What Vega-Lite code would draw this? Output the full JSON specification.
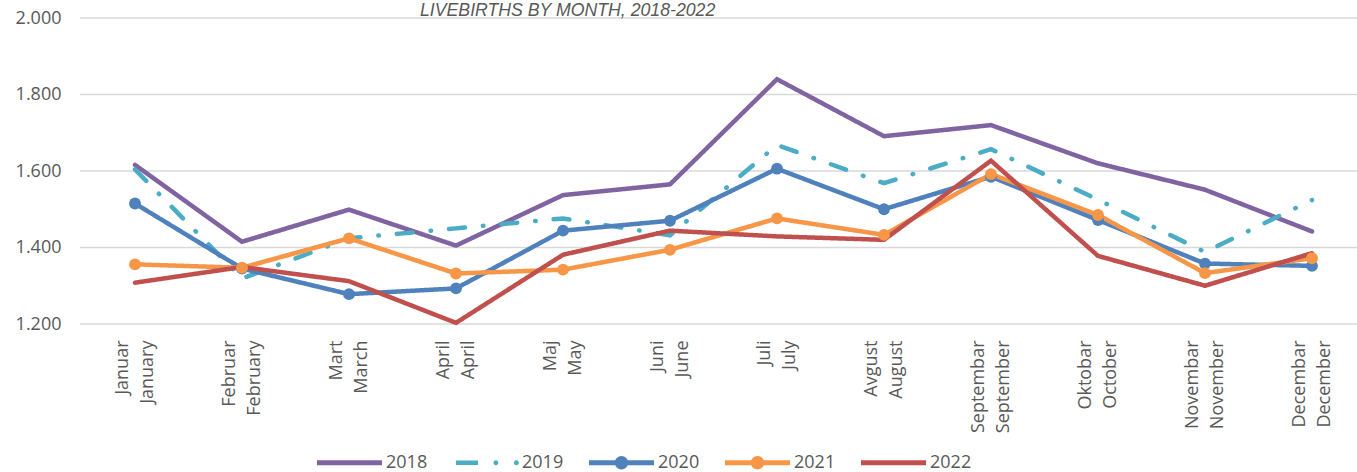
{
  "$schema": "https://vega.github.io/schema/vega-lite/v6.json",
  "width": 1277,
  "height": 306,
  "autosize": {"type": "none"},
  "padding": {"left": 80, "top": 18, "right": 0, "bottom": 148},
  "background": "white",
  "title": {
    "text": "LIVEBIRTHS BY MONTH, 2018-2022",
    "anchor": "start",
    "dx": 340,
    "offset": -25,
    "font": "Liberation Sans",
    "fontSize": 17.7,
    "fontStyle": "italic",
    "fontWeight": "normal",
    "color": "#595959",
    "baseline": "alphabetic",
    "frame": "group"
  },
  "config": {
    "view": {"stroke": null},
    "font": "Open Sans"
  },
  "data": {
    "values": [
      {"month": "Januar|January", "year": "2018", "births": 1616},
      {"month": "Februar|February", "year": "2018", "births": 1415},
      {"month": "Mart|March", "year": "2018", "births": 1499},
      {"month": "April|April", "year": "2018", "births": 1405},
      {"month": "Maj|May", "year": "2018", "births": 1537},
      {"month": "Juni|June", "year": "2018", "births": 1565},
      {"month": "Juli|July", "year": "2018", "births": 1840},
      {"month": "Avgust|August", "year": "2018", "births": 1691},
      {"month": "Septembar|September", "year": "2018", "births": 1720},
      {"month": "Oktobar|October", "year": "2018", "births": 1620},
      {"month": "Novembar|November", "year": "2018", "births": 1551},
      {"month": "Decembar|December", "year": "2018", "births": 1442},
      {"month": "Januar|January", "year": "2019", "births": 1604},
      {"month": "Februar|February", "year": "2019", "births": 1319},
      {"month": "Mart|March", "year": "2019", "births": 1424},
      {"month": "April|April", "year": "2019", "births": 1450},
      {"month": "Maj|May", "year": "2019", "births": 1476},
      {"month": "Juni|June", "year": "2019", "births": 1432},
      {"month": "Juli|July", "year": "2019", "births": 1668},
      {"month": "Avgust|August", "year": "2019", "births": 1568},
      {"month": "Septembar|September", "year": "2019", "births": 1657},
      {"month": "Oktobar|October", "year": "2019", "births": 1525},
      {"month": "Novembar|November", "year": "2019", "births": 1388},
      {"month": "Decembar|December", "year": "2019", "births": 1524},
      {"month": "Januar|January", "year": "2020", "births": 1515},
      {"month": "Februar|February", "year": "2020", "births": 1345},
      {"month": "Mart|March", "year": "2020", "births": 1278},
      {"month": "April|April", "year": "2020", "births": 1293},
      {"month": "Maj|May", "year": "2020", "births": 1444},
      {"month": "Juni|June", "year": "2020", "births": 1470},
      {"month": "Juli|July", "year": "2020", "births": 1606},
      {"month": "Avgust|August", "year": "2020", "births": 1500},
      {"month": "Septembar|September", "year": "2020", "births": 1585},
      {"month": "Oktobar|October", "year": "2020", "births": 1472},
      {"month": "Novembar|November", "year": "2020", "births": 1358},
      {"month": "Decembar|December", "year": "2020", "births": 1352},
      {"month": "Januar|January", "year": "2021", "births": 1356},
      {"month": "Februar|February", "year": "2021", "births": 1347},
      {"month": "Mart|March", "year": "2021", "births": 1424},
      {"month": "April|April", "year": "2021", "births": 1332},
      {"month": "Maj|May", "year": "2021", "births": 1342},
      {"month": "Juni|June", "year": "2021", "births": 1394},
      {"month": "Juli|July", "year": "2021", "births": 1476},
      {"month": "Avgust|August", "year": "2021", "births": 1433},
      {"month": "Septembar|September", "year": "2021", "births": 1592},
      {"month": "Oktobar|October", "year": "2021", "births": 1485},
      {"month": "Novembar|November", "year": "2021", "births": 1333},
      {"month": "Decembar|December", "year": "2021", "births": 1372},
      {"month": "Januar|January", "year": "2022", "births": 1308},
      {"month": "Februar|February", "year": "2022", "births": 1349},
      {"month": "Mart|March", "year": "2022", "births": 1312},
      {"month": "April|April", "year": "2022", "births": 1203},
      {"month": "Maj|May", "year": "2022", "births": 1381},
      {"month": "Juni|June", "year": "2022", "births": 1444},
      {"month": "Juli|July", "year": "2022", "births": 1429},
      {"month": "Avgust|August", "year": "2022", "births": 1420},
      {"month": "Septembar|September", "year": "2022", "births": 1627},
      {"month": "Oktobar|October", "year": "2022", "births": 1378},
      {"month": "Novembar|November", "year": "2022", "births": 1300},
      {"month": "Decembar|December", "year": "2022", "births": 1385}
    ]
  },
  "layer": [
    {
      "data": {"values": [{"grid": 1200}, {"grid": 1400}, {"grid": 1600}, {"grid": 1800}, {"grid": 2000}]},
      "mark": {"type": "rule", "color": "#d9d9d9", "strokeWidth": 1.5},
      "encoding": {
        "y": {"field": "grid", "type": "quantitative"}
      }
    },
    {
      "mark": {"type": "line", "strokeWidth": 4.5, "strokeCap": "round"},
      "encoding": {
        "x": {
          "field": "month",
          "type": "nominal",
          "sort": null,
          "scale": {"type": "point", "range": [55, 1232], "padding": 0},
          "axis": {
            "title": null,
            "labelAngle": -90,
            "labelExpr": "split(datum.label, '|')",
            "labelLineHeight": 25,
            "labelPadding": 16,
            "labelOffset": -13,
            "labelFont": "Open Sans",
            "labelFontSize": 18,
            "labelColor": "#595959",
            "labelOverlap": false,
            "ticks": false,
            "domain": false,
            "grid": false
          }
        },
        "y": {
          "field": "births",
          "type": "quantitative",
          "scale": {"domain": [1200, 2000], "nice": false, "zero": false},
          "axis": {
            "title": null,
            "values": [1200, 1400, 1600, 1800, 2000],
            "labelExpr": "replace(format(datum.value, ','), ',', '.')",
            "labelFont": "Open Sans",
            "labelFontSize": 18,
            "labelColor": "#595959",
            "labelPadding": 19,
            "ticks": false,
            "domain": false,
            "grid": false
          }
        },
        "color": {
          "field": "year",
          "type": "nominal",
          "scale": {
            "domain": ["2018", "2019", "2020", "2021", "2022"],
            "range": ["#8064a2", "#4bacc6", "#4f81bd", "#f79646", "#c0504d"]
          },
          "legend": {
            "orient": "none",
            "legendX": 237,
            "legendY": 412,
            "direction": "horizontal",
            "title": null,
            "labelFont": "Open Sans",
            "labelFontSize": 18,
            "labelColor": "#595959",
            "labelOffset": 4,
            "columnPadding": 25,
            "symbolSize": 4225,
            "symbolStrokeWidth": 0,
            "encode": {
              "symbols": {
                "update": {
                  "shape": {"signal": "datum.value === '2019' ? 'M-0.91,-0.07L-0.23,-0.07L-0.23,0.07L-0.91,0.07Z M0.245,0A0.075,0.075 0 1,1 0.395,0A0.075,0.075 0 1,1 0.245,0Z M0.875,0A0.075,0.075 0 1,1 1.025,0A0.075,0.075 0 1,1 0.875,0Z' : (datum.value === '2020' || datum.value === '2021') ? 'M-1,-0.077L1,-0.077L1,0.077L-1,0.077Z M-0.206,0A0.206,0.206 0 1,1 0.206,0A0.206,0.206 0 1,1 -0.206,0Z' : 'M-1,-0.077L1,-0.077L1,0.077L-1,0.077Z'"},
                  "fill": {"signal": "scale('color', datum.value)"},
                  "stroke": {"value": "transparent"},
                  "strokeWidth": {"value": 0},
                  "opacity": {"value": 1}
                }
              }
            }
          }
        },
        "strokeDash": {
          "field": "year",
          "type": "nominal",
          "scale": {
            "domain": ["2018", "2019", "2020", "2021", "2022"],
            "range": [[1, 0], [16, 18, 0.5, 18], [1, 0], [1, 0], [1, 0]]
          },
          "legend": null
        }
      }
    },
    {
      "transform": [{"filter": "datum.year === '2020' || datum.year === '2021'"}],
      "mark": {"type": "point", "filled": true, "size": 140, "opacity": 1, "shape": "circle"},
      "encoding": {
        "x": {"field": "month", "type": "nominal", "sort": null},
        "y": {"field": "births", "type": "quantitative"},
        "color": {"field": "year", "type": "nominal"}
      }
    }
  ]
}
